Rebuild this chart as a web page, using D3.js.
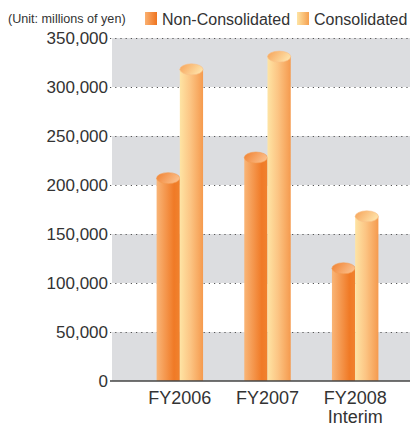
<!DOCTYPE html>
<html>
<head>
<meta charset="utf-8">
<script src="https://cdn.jsdelivr.net/npm/d3@7"></script>
<style>
  html, body { margin: 0; padding: 0; background: #fff; }
  svg { display: block; font-family: "Liberation Sans", Arial, sans-serif; }
</style>
</head>
<body>
<svg id="chart" width="411" height="426"></svg>
<script>
// Net sales by fiscal year (millions of yen)
const categories = ["FY2006", "FY2007", "FY2008\nInterim"];
const seriesNames = ["Non-Consolidated", "Consolidated"];
const nonConsolidated = [207000, 228000, 115000];
const consolidated = [318000, 331000, 168000];
const tickValues = [0, 50000, 100000, 150000, 200000, 250000, 300000, 350000];
const unitLabel = "(Unit: millions of yen)";

const svg = d3.select("#chart");
const W = 411, H = 426;
const plot = { left: 112, right: 410, top: 38, bottom: 381 };

const y = d3.scaleLinear().domain([0, 350000]).range([plot.bottom, plot.top]);
const x0 = d3.scaleBand().domain(categories).range([136, 399]).paddingInner(0.47).paddingOuter(0.235);
const x1 = d3.scaleBand().domain(seriesNames).range([0, x0.bandwidth()]);

const defs = svg.append("defs");
function linGrad(id, stops, x2, y2) {
  const g = defs.append("linearGradient").attr("id", id)
    .attr("x1", 0).attr("y1", 0).attr("x2", x2).attr("y2", y2);
  stops.forEach(s => g.append("stop").attr("offset", s[0]).attr("stop-color", s[1]));
}
linGrad("ncBody", [[0, "#f9b577"], [0.75, "#f07a26"], [1, "#f0822e"]], 1, 0);
linGrad("cBody", [[0, "#fee4a4"], [0.45, "#fcc584"], [1, "#f59a4e"]], 1, 0);
linGrad("ncTop", [[0, "#f08030"], [1, "#fbbd88"]], 1, 0.4);
linGrad("cTop", [[0, "#f6a258"], [1, "#fee0a6"]], 1, 0.4);
linGrad("ncSwatch", [[0, "#fab070"], [1, "#ef7420"]], 1, 0);
linGrad("cSwatch", [[0, "#fee4a4"], [1, "#f5a050"]], 1, 0);

// Alternating background bands
const bands = d3.range(0, 7).filter(i => i % 2 === 0);
svg.append("g").selectAll("rect").data(bands).join("rect")
  .attr("x", plot.left).attr("width", plot.right - plot.left)
  .attr("y", i => y((i + 1) * 50000))
  .attr("height", i => y(i * 50000) - y((i + 1) * 50000))
  .attr("fill", "#dcdde0");

// Dotted gridlines
svg.append("g").selectAll("line").data(tickValues.filter(v => v > 0)).join("line")
  .attr("x1", 110).attr("x2", plot.right)
  .attr("y1", d => y(d) + 0.5).attr("y2", d => y(d) + 0.5)
  .attr("stroke", "#555").attr("stroke-width", 1.2).attr("stroke-dasharray", "1.2,4");

// Y axis labels
const yAxis = d3.axisLeft(y).tickValues(tickValues).tickSize(0).tickPadding(0)
  .tickFormat(d3.format(","));
const gy = svg.append("g").attr("transform", `translate(108,0)`).call(yAxis);
gy.select(".domain").remove();
gy.selectAll("text").attr("font-size", 17).attr("fill", "#333")
  .attr("font-family", "Liberation Sans, Arial, sans-serif");

// Cylinders
const data = categories.map((c, i) => ({ cat: c, values: [
  { key: seriesNames[0], v: nonConsolidated[i] },
  { key: seriesNames[1], v: consolidated[i] }
]}));
const ry = 5.5;
const groups = svg.append("g").selectAll("g").data(data).join("g")
  .attr("transform", d => `translate(${x0(d.cat)},0)`);
const bars = groups.selectAll("g").data(d => d.values).join("g");
bars.append("rect")
  .attr("x", d => x1(d.key)).attr("width", x1.bandwidth())
  .attr("y", d => y(d.v)).attr("height", d => y(0) - y(d.v))
  .attr("fill", d => d.key === seriesNames[0] ? "url(#ncBody)" : "url(#cBody)");
bars.append("ellipse")
  .attr("cx", d => x1(d.key) + x1.bandwidth() / 2).attr("cy", d => y(d.v))
  .attr("rx", x1.bandwidth() / 2).attr("ry", ry)
  .attr("fill", d => d.key === seriesNames[0] ? "url(#ncTop)" : "url(#cTop)")
  .attr("stroke", d => d.key === seriesNames[0] ? "#f39a50" : "#f8c088")
  .attr("stroke-width", 0.6);

// Baseline
svg.append("line").attr("x1", 110).attr("x2", plot.right)
  .attr("y1", y(0)).attr("y2", y(0)).attr("stroke", "#444").attr("stroke-width", 1.5);

// Category labels
const xl = svg.append("g").selectAll("text").data(categories).join("text")
  .attr("x", d => x0(d) + x0.bandwidth() / 2).attr("y", 404)
  .attr("text-anchor", "middle").attr("font-size", 18).attr("fill", "#333");
xl.selectAll("tspan").data(d => d.split("\n")).join("tspan")
  .attr("x", function() { return d3.select(this.parentNode).attr("x"); })
  .attr("dy", (d, i) => i === 0 ? 0 : 19).text(d => d);

// Unit label and legend
svg.append("text").attr("x", 8).attr("y", 23).attr("font-size", 12.6)
  .attr("fill", "#333").text(unitLabel);
const legend = [
  { name: seriesNames[0], fill: "url(#ncSwatch)", x: 145 },
  { name: seriesNames[1], fill: "url(#cSwatch)", x: 297 }
];
const lg = svg.append("g").selectAll("g").data(legend).join("g");
lg.append("rect").attr("x", d => d.x).attr("y", 12).attr("width", 12).attr("height", 13)
  .attr("fill", d => d.fill);
lg.append("text").attr("x", d => d.x + 17).attr("y", 25).attr("font-size", 16)
  .attr("fill", "#333").text(d => d.name);
</script>
</body>
</html>
